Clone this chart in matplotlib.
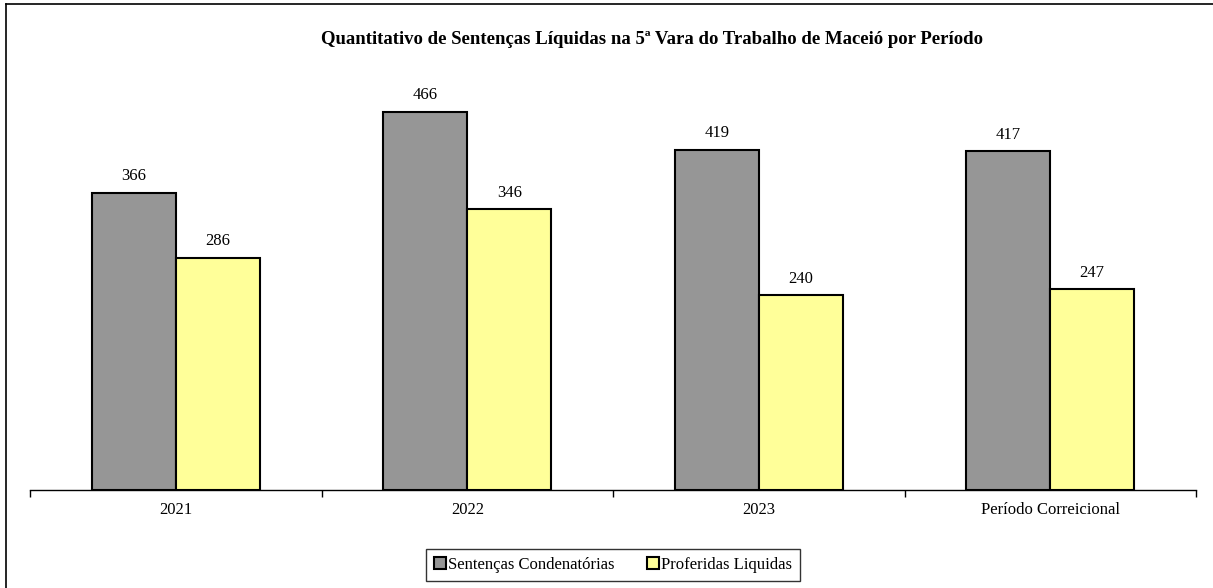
import matplotlib
matplotlib.use("Agg")
import matplotlib.pyplot as plt
from matplotlib.lines import Line2D
import numpy as np

categories = ["2021", "2022", "2023", "Período Correicional"]
condenatorias = [366, 466, 419, 417]
liquidas = [286, 346, 240, 247]
series_names = ["Sentenças Condenatórias", "Proferidas Liquidas"]
title = "Quantitativo de Sentenças Líquidas na 5ª Vara do Trabalho de Maceió por Período"

plt.rcParams['font.family'] = ['Liberation Serif', 'DejaVu Serif']

W, H = 1213, 588
fig = plt.figure(figsize=(W / 100, H / 100), dpi=100)
ax = fig.add_axes([30 / W, (H - 490) / H, (1196 - 30) / W, (490 - 84) / H])

x = np.arange(len(categories))
bw = 0.288
b1 = ax.bar(x - bw / 2, condenatorias, bw, color="#969696", edgecolor="black", linewidth=1.5, label=series_names[0])
b2 = ax.bar(x + bw / 2, liquidas, bw, color="#FFFF99", edgecolor="black", linewidth=1.5, label=series_names[1])

for bars, vals in ((b1, condenatorias), (b2, liquidas)):
    for r, v in zip(bars, vals):
        ax.annotate(str(v), (r.get_x() + r.get_width() / 2, v), xytext=(0, 6),
                    textcoords="offset points", ha="center", va="bottom", fontsize=12)

ax.set_xlim(-0.5, len(categories) - 0.5)
ax.set_ylim(0, 500)
ax.set_yticks([])
for s in ("top", "right", "left"):
    ax.spines[s].set_visible(False)
ax.spines["bottom"].set_linewidth(1.0)
ax.set_xticks(x)
ax.set_xticklabels(categories, fontsize=12)
ax.tick_params(axis="x", which="major", length=0, pad=9)
ax.set_xticks(np.arange(-0.5, len(categories), 1.0), minor=True)
ax.tick_params(axis="x", which="minor", length=5, direction="out", width=1.0)

fig.text(652 / W, 1 - 40 / H, title, ha="center", va="center", fontsize=13.5, fontweight="bold")

leg = fig.legend(handles=[b1, b2], labels=series_names, loc="center", bbox_to_anchor=(613 / W, 1 - 565 / H),
                 ncol=2, frameon=True, fancybox=False, fontsize=12, handlelength=0.7, handleheight=0.7,
                 handletextpad=0.1, columnspacing=2.0, borderpad=0.5, edgecolor="black")
leg.get_frame().set_linewidth(1.0)

fig.add_artist(Line2D([6 / W, 6 / W], [0, 1 - 4 / H], color="black", linewidth=1.2, transform=fig.transFigure))
fig.add_artist(Line2D([6 / W, 1], [1 - 4 / H, 1 - 4 / H], color="black", linewidth=1.2, transform=fig.transFigure))

fig.savefig("out.png", dpi=100)
